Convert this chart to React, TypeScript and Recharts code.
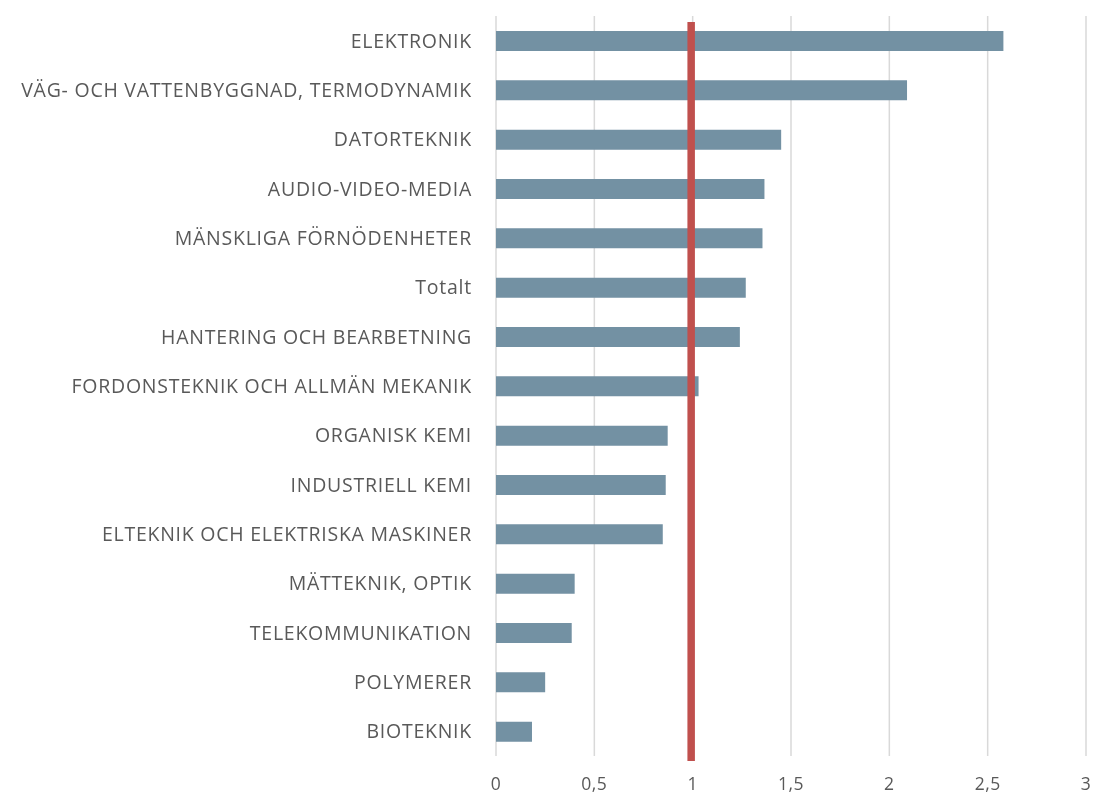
import React from "react";
import {
  BarChart,
  Bar,
  XAxis,
  YAxis,
  CartesianGrid,
  ReferenceLine
} from "recharts";

const categories = [
  "ELEKTRONIK",
  "VÄG- OCH VATTENBYGGNAD, TERMODYNAMIK",
  "DATORTEKNIK",
  "AUDIO-VIDEO-MEDIA",
  "MÄNSKLIGA FÖRNÖDENHETER",
  "Totalt",
  "HANTERING OCH BEARBETNING",
  "FORDONSTEKNIK OCH ALLMÄN MEKANIK",
  "ORGANISK KEMI",
  "INDUSTRIELL KEMI",
  "ELTEKNIK OCH ELEKTRISKA MASKINER",
  "MÄTTEKNIK, OPTIK",
  "TELEKOMMUNIKATION",
  "POLYMERER",
  "BIOTEKNIK"
];

const values = [
  2.58, 2.09, 1.45, 1.365, 1.355, 1.27, 1.24, 1.03, 0.873, 0.863, 0.848,
  0.4, 0.385, 0.25, 0.183
];

const xTicks = [0, 0.5, 1, 1.5, 2, 2.5, 3];
const referenceValue = 1;

const data = categories.map((name, i) => ({ name, value: values[i] }));

const fontFamily = "'Open Sans', sans-serif";

const yTickStyle = {
  fill: "#595959",
  fontSize: 19.5,
  fontFamily,
  letterSpacing: 0.75
};

const xTickStyle = {
  fill: "#595959",
  fontSize: 17.5,
  fontFamily,
  letterSpacing: 0.5
};

// red marker line, drawn a little lower than the plot like the original
const RedLine = (props: any) => {
  const top = Math.min(props.y1, props.y2) + 6;
  const bottom = Math.max(props.y1, props.y2) + 5;
  return (
    <line
      x1={props.x1 - 1.5}
      x2={props.x2 - 1.5}
      y1={top}
      y2={bottom}
      stroke="#c0504d"
      strokeWidth={7.5}
    />
  );
};

const App: React.FC = () => {
  return (
    <div style={{ position: "fixed", left: 0, top: 0, width: 1093, height: 796 }}>
      <BarChart
        width={1093}
        height={796}
        data={data}
        layout="vertical"
        margin={{ top: 16, right: 7, left: 0, bottom: 0 }}
        barCategoryGap={0}
      >
        <CartesianGrid
          horizontal={false}
          stroke="#d9d9d9"
          strokeWidth={1.5}
        />
        <XAxis
          type="number"
          domain={[0, 3]}
          ticks={xTicks}
          height={40}
          axisLine={false}
          tickLine={false}
          tickSize={0}
          tickMargin={22}
          tickFormatter={(v: number) => String(v).replace(".", ",")}
          tick={xTickStyle}
        />
        <YAxis
          type="category"
          dataKey="name"
          width={496}
          axisLine={false}
          tickLine={false}
          tickSize={0}
          tickMargin={24}
          interval={0}
          tick={yTickStyle}
        />
        <Bar
          dataKey="value"
          fill="#7391a3"
          barSize={20}
          isAnimationActive={false}
        />
        <ReferenceLine x={referenceValue} shape={RedLine} />
      </BarChart>
    </div>
  );
};

export default App;
